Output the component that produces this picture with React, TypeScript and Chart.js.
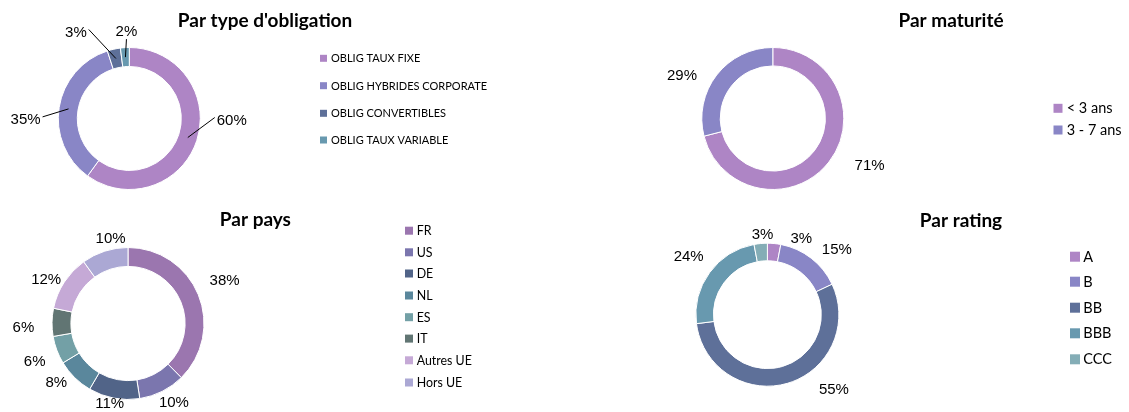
import React, { useEffect, useRef } from "react";
import { Chart, registerables } from "chart.js";

Chart.register(...registerables);

// ---------- DATA ----------
const typeLabels = ["OBLIG TAUX FIXE", "OBLIG HYBRIDES CORPORATE", "OBLIG CONVERTIBLES", "OBLIG TAUX VARIABLE"];
const typeValues = [60, 35, 3, 2];

const maturiteLabels = ["< 3 ans", "3 - 7 ans"];
const maturiteValues = [71, 29];

const paysLabels = ["FR", "US", "DE", "NL", "ES", "IT", "Autres UE", "Hors UE"];
const paysValues = [38, 10, 11, 8, 6, 6, 12, 10];

const ratingLabels = ["A", "B", "BB", "BBB", "CCC"];
const ratingValues = [3, 15, 55, 24, 3];

// ---------- STYLES ----------
const typeColors = ["#AE85C5", "#8986C6", "#5E7099", "#6899AF"];
const maturiteColors = ["#AE85C5", "#8986C6"];
const paysColors = ["#9B76AF", "#7B76AE", "#516488", "#5A879C", "#73A0A6", "#617573", "#C5A9D6", "#ABA8D4"];
const ratingColors = ["#AE85C5", "#8986C6", "#5E7099", "#6899AF", "#84ADB6"];

const W = 1129;
const H = 412;
const TITLE_FONT = "bold 19px Lato, 'Open Sans', sans-serif";
const LABEL_FONT = "15px 'Liberation Sans', Arial, sans-serif";

type Panel = {
  title: string;
  labels: string[];
  values: number[];
  colors: string[];
  cx: number;
  cy: number;
  R: number;
  r: number;
  titleX: number;
  titleY: number;
  legendSquareX: number;
  legendTextX: number;
  legendY: number[];
  legendSquare: number;
  legendFont: string;
  labelOffsets: [number, number][];
  leaders: boolean;
};

const panels: Panel[] = [
  {
    title: "Par type d'obligation",
    labels: typeLabels,
    values: typeValues,
    colors: typeColors,
    cx: 129.3, cy: 118.5, R: 71, r: 52,
    titleX: 265, titleY: 20.5,
    legendSquareX: 320, legendTextX: 331,
    legendY: [58.3, 85.7, 113.3, 140],
    legendSquare: 7,
    legendFont: "11px Lato, 'Open Sans', sans-serif",
    labelOffsets: [[44, -17], [-43, 11], [-40, -26], [1, -25]],
    leaders: true,
  },
  {
    title: "Par maturité",
    labels: maturiteLabels,
    values: maturiteValues,
    colors: maturiteColors,
    cx: 772.8, cy: 118.5, R: 71, r: 52.6,
    titleX: 951, titleY: 21,
    legendSquareX: 1053.5, legendTextX: 1066.7,
    legendY: [108.3, 130],
    legendSquare: 9,
    legendFont: "14.5px Lato, 'Open Sans', sans-serif",
    labelOffsets: [[48, 9], [-42, -5]],
    leaders: false,
  },
  {
    title: "Par pays",
    labels: paysLabels,
    values: paysValues,
    colors: paysColors,
    cx: 128, cy: 323.5, R: 76, r: 57.1,
    titleX: 255.4, titleY: 220,
    legendSquareX: 405, legendTextX: 416.7,
    legendY: [230.7, 252.3, 273.5, 295.5, 317.2, 338.6, 360.3, 382.5],
    legendSquare: 8,
    legendFont: "12.4px Lato, 'Open Sans', sans-serif",
    labelOffsets: [[35, -17], [16, 20], [-6, 15], [-25, 12], [-31, 15], [-38, 5], [-26, -7], [3, -21]],
    leaders: false,
  },
  {
    title: "Par rating",
    labels: ratingLabels,
    values: ratingValues,
    colors: ratingColors,
    cx: 767.4, cy: 314.7, R: 71.5, r: 53.9,
    titleX: 961, titleY: 220.5,
    legendSquareX: 1070, legendTextX: 1083.3,
    legendY: [256.7, 281.7, 307.7, 333.3, 359.3],
    legendSquare: 10,
    legendFont: "14.5px Lato, 'Open Sans', sans-serif",
    labelOffsets: [[28, -13], [31, -15], [49, 15], [-28, -21], [1, -17]],
    leaders: false,
  },
];

function makeOverlay(p: Panel) {
  return {
    id: "overlay",
    afterDraw(chart: any) {
      const ctx = chart.ctx as CanvasRenderingContext2D;
      ctx.save();
      // title
      ctx.font = TITLE_FONT;
      ctx.fillStyle = "#000";
      ctx.textAlign = "center";
      ctx.textBaseline = "middle";
      ctx.fillText(p.title, p.titleX, p.titleY);

      // legend
      ctx.font = p.legendFont;
      ctx.textAlign = "left";
      p.labels.forEach((lab, i) => {
        const y = p.legendY[i];
        const s = p.legendSquare;
        ctx.fillStyle = p.colors[i];
        ctx.fillRect(p.legendSquareX, y - s / 2, s, s);
        ctx.fillStyle = "#000";
        ctx.fillText(lab, p.legendTextX, y + 0.5);
      });

      // data labels
      const meta = chart.getDatasetMeta(0);
      ctx.font = LABEL_FONT;
      ctx.textAlign = "center";
      ctx.textBaseline = "middle";
      meta.data.forEach((arc: any, i: number) => {
        const { x, y, startAngle, endAngle, innerRadius, outerRadius } = arc.getProps(
          ["x", "y", "startAngle", "endAngle", "innerRadius", "outerRadius"],
          true
        );
        const mid = (startAngle + endAngle) / 2;
        const rm = (innerRadius + outerRadius) / 2;
        const ax = x + rm * Math.cos(mid);
        const ay = y + rm * Math.sin(mid);
        const [ox, oy] = p.labelOffsets[i];
        const lx = ax + ox;
        const ly = ay + oy;
        const text = p.values[i] + "%";
        ctx.fillStyle = "#000";
        ctx.fillText(text, lx, ly);
        if (p.leaders) {
          const w = ctx.measureText(text).width;
          let ex: number, ey: number;
          if (Math.abs(oy) > Math.abs(ox) * 1.5) {
            ex = lx;
            ey = ly + (oy < 0 ? 7 : -7);
          } else {
            ex = lx + (ox < 0 ? w / 2 + 2 : -w / 2 - 2);
            ey = ly - 3;
          }
          ctx.strokeStyle = "#000";
          ctx.lineWidth = 1;
          ctx.beginPath();
          ctx.moveTo(ax, ay);
          ctx.lineTo(ex, ey);
          ctx.stroke();
        }
      });
      ctx.restore();
    },
  };
}

function DonutPanel({ p }: { p: Panel }) {
  const ref = useRef<HTMLCanvasElement | null>(null);
  useEffect(() => {
    if (!ref.current) return;
    const a = 80;
    const chart = new Chart(ref.current, {
      type: "doughnut",
      data: {
        labels: p.labels,
        datasets: [
          {
            data: p.values,
            backgroundColor: p.colors,
            borderColor: "#ffffff",
            borderWidth: 1,
            clip: false as any,
          } as any,
        ],
      },
      options: {
        responsive: false,
        animation: false,
        radius: p.R,
        cutout: ((p.r / p.R) * 100).toFixed(2) + "%",
        layout: {
          padding: {
            left: p.cx - a,
            right: W - p.cx - a,
            top: p.cy - a,
            bottom: H - p.cy - a,
          },
        },
        plugins: {
          legend: { display: false },
          tooltip: { enabled: false },
          title: { display: false },
        },
        events: [],
      } as any,
      plugins: [makeOverlay(p)],
    });
    return () => chart.destroy();
  }, [p]);
  return (
    <canvas
      ref={ref}
      width={W}
      height={H}
      style={{ position: "absolute", left: 0, top: 0, width: W, height: H }}
    />
  );
}

export default function App() {
  return (
    <div style={{ position: "absolute", left: 0, top: 0, width: W, height: H, background: "#fff", overflow: "hidden" }}>
      {panels.map((p, i) => (
        <DonutPanel key={i} p={p} />
      ))}
    </div>
  );
}
